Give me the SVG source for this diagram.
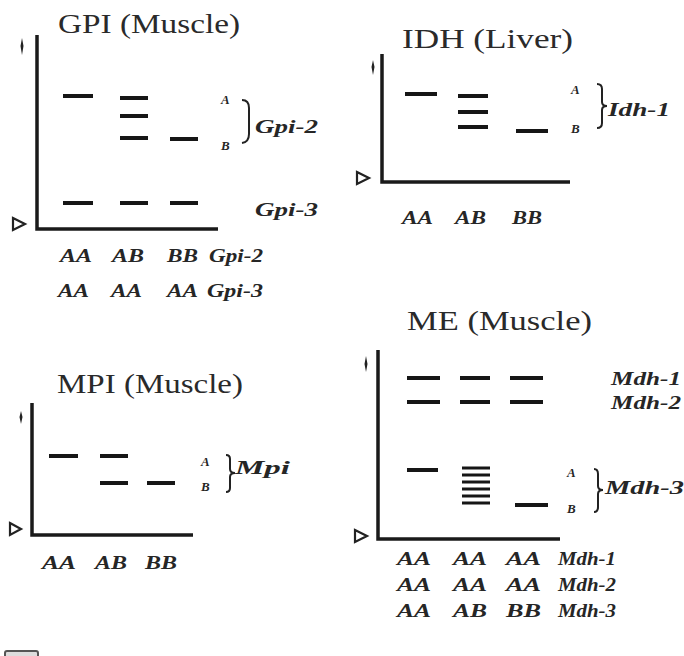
<svg xmlns="http://www.w3.org/2000/svg" width="684" height="656" viewBox="0 0 684 656">
<style>
.title{font-family:"Liberation Serif",serif;font-size:28px;fill:#2a2a2a}
.lane{font-family:"Liberation Serif",serif;font-style:italic;font-weight:bold;font-size:19px;fill:#262626}
.loc{font-family:"Liberation Serif",serif;font-style:italic;font-weight:bold;font-size:18px;fill:#262626}
.al{font-family:"Liberation Serif",serif;font-style:italic;font-weight:bold;font-size:13px;fill:#262626}
.band{stroke:#161616;stroke-width:4;fill:none}
.thin{stroke:#161616;stroke-width:3;fill:none}
.axis{stroke:#1a1a1a;stroke-width:3.5;fill:none}
.tri{fill:#fff;stroke:#222;stroke-width:2.2}
.tick{fill:#222}
.brace{fill:none;stroke:#222;stroke-width:2}
</style>
<rect width="684" height="656" fill="#fff"/>

<g id="gpi">
  <text class="title" x="58" y="33" textLength="182" lengthAdjust="spacingAndGlyphs">GPI (Muscle)</text>
  <path class="axis" d="M37,35 V229 H218"/>
  <polygon class="tick" points="22,38 23.5,46 22,55 20.5,46"/>
  <polygon class="tri" points="13,218 25,224 13,230"/>
  <path class="band" d="M63,96 H93 M120,98 H148 M120,116 H148 M120,138 H148 M170,139 H198 M63,203 H93 M120,203 H148 M170,203 H198"/>
  <text class="al" x="221" y="104">A</text>
  <text class="al" x="221" y="150">B</text>
  <path class="brace" d="M242,100 Q249,100 249,108 V134 Q249,142 242,143"/>
  <text class="loc" x="255" y="133" textLength="63" lengthAdjust="spacingAndGlyphs">Gpi-2</text>
  <text class="loc" x="255" y="216" textLength="63" lengthAdjust="spacingAndGlyphs">Gpi-3</text>
  <text class="lane" x="60" y="262" textLength="32" lengthAdjust="spacingAndGlyphs">AA</text>
  <text class="lane" x="112" y="262" textLength="32" lengthAdjust="spacingAndGlyphs">AB</text>
  <text class="lane" x="167" y="262" textLength="31" lengthAdjust="spacingAndGlyphs">BB</text>
  <text class="lane" x="209" y="262" textLength="54" lengthAdjust="spacingAndGlyphs">Gpi-2</text>
  <text class="lane" x="58" y="297" textLength="31" lengthAdjust="spacingAndGlyphs">AA</text>
  <text class="lane" x="111" y="297" textLength="31" lengthAdjust="spacingAndGlyphs">AA</text>
  <text class="lane" x="167" y="297" textLength="31" lengthAdjust="spacingAndGlyphs">AA</text>
  <text class="lane" x="207" y="297" textLength="56" lengthAdjust="spacingAndGlyphs">Gpi-3</text>
</g>

<g id="idh">
  <text class="title" x="402" y="48" textLength="171" lengthAdjust="spacingAndGlyphs">IDH (Liver)</text>
  <path class="axis" d="M382,54 V182 H570"/>
  <polygon class="tick" points="373,60 374.5,67 373,75 371.5,67"/>
  <polygon class="tri" points="357,172 369,178 357,184"/>
  <path class="band" d="M405,94 H437 M458,96 H488 M458,112 H488 M458,127 H488 M516,131 H548"/>
  <text class="al" x="571" y="94">A</text>
  <text class="al" x="571" y="133">B</text>
  <path class="brace" d="M597,84 Q602,84 602,89 V102 Q602,106 607,106 Q602,106 602,110 V123 Q602,128 597,128"/>
  <text class="loc" x="608" y="116" textLength="62" lengthAdjust="spacingAndGlyphs">Idh-1</text>
  <text class="lane" x="402" y="224" textLength="31" lengthAdjust="spacingAndGlyphs">AA</text>
  <text class="lane" x="455" y="224" textLength="31" lengthAdjust="spacingAndGlyphs">AB</text>
  <text class="lane" x="512" y="224" textLength="30" lengthAdjust="spacingAndGlyphs">BB</text>
</g>

<g id="mpi">
  <text class="title" x="57" y="393" textLength="186" lengthAdjust="spacingAndGlyphs">MPI (Muscle)</text>
  <path class="axis" d="M32,403 V535 H193"/>
  <polygon class="tick" points="21,411 22.5,417 21,424 19.5,417"/>
  <polygon class="tri" points="10,523 21,529 10,535"/>
  <path class="band" d="M49,456 H78 M100,456 H128 M100,483 H128 M147,483 H175"/>
  <text class="al" x="201" y="466">A</text>
  <text class="al" x="201" y="491">B</text>
  <path class="brace" d="M226,455 Q230,455 230,459 V469 Q230,473 235,473 Q230,473 230,477 V488 Q230,492 226,492"/>
  <text class="loc" x="235" y="474" textLength="55" lengthAdjust="spacingAndGlyphs">Mpi</text>
  <text class="lane" x="42" y="569" textLength="34" lengthAdjust="spacingAndGlyphs">AA</text>
  <text class="lane" x="95" y="569" textLength="32" lengthAdjust="spacingAndGlyphs">AB</text>
  <text class="lane" x="145" y="569" textLength="32" lengthAdjust="spacingAndGlyphs">BB</text>
</g>

<g id="me">
  <text class="title" x="407" y="330" textLength="185" lengthAdjust="spacingAndGlyphs">ME (Muscle)</text>
  <path class="axis" d="M378,350 V539 H560"/>
  <polygon class="tick" points="366,356 367.5,364 366,372 364.5,364"/>
  <polygon class="tri" points="355,530 367,536 355,542"/>
  <path class="band" d="M407,378 H440 M460,378 H490 M510,378 H543 M407,402 H440 M460,402 H490 M510,402 H543 M407,470 H438 M515,505 H548"/>
  <path class="thin" d="M462,468 H490 M462,475 H490 M462,482 H490 M462,489 H490 M462,496 H490 M462,503 H490"/>
  <text class="al" x="567" y="477">A</text>
  <text class="al" x="567" y="513">B</text>
  <path class="brace" d="M594,469 Q598,469 598,474 V486 Q598,490 603,490 Q598,490 598,494 V507 Q598,512 594,512"/>
  <text class="loc" x="605" y="494" textLength="79" lengthAdjust="spacingAndGlyphs">Mdh-3</text>
  <text class="loc" x="611" y="385" textLength="70" lengthAdjust="spacingAndGlyphs">Mdh-1</text>
  <text class="loc" x="611" y="409" textLength="70" lengthAdjust="spacingAndGlyphs">Mdh-2</text>
  <text class="lane" x="397" y="565" textLength="34" lengthAdjust="spacingAndGlyphs">AA</text>
  <text class="lane" x="453" y="565" textLength="34" lengthAdjust="spacingAndGlyphs">AA</text>
  <text class="lane" x="506" y="565" textLength="35" lengthAdjust="spacingAndGlyphs">AA</text>
  <text class="lane" x="558" y="565" textLength="58" lengthAdjust="spacingAndGlyphs">Mdh-1</text>
  <text class="lane" x="397" y="591" textLength="34" lengthAdjust="spacingAndGlyphs">AA</text>
  <text class="lane" x="453" y="591" textLength="34" lengthAdjust="spacingAndGlyphs">AA</text>
  <text class="lane" x="506" y="591" textLength="35" lengthAdjust="spacingAndGlyphs">AA</text>
  <text class="lane" x="558" y="591" textLength="58" lengthAdjust="spacingAndGlyphs">Mdh-2</text>
  <text class="lane" x="397" y="617" textLength="34" lengthAdjust="spacingAndGlyphs">AA</text>
  <text class="lane" x="453" y="617" textLength="34" lengthAdjust="spacingAndGlyphs">AB</text>
  <text class="lane" x="506" y="617" textLength="35" lengthAdjust="spacingAndGlyphs">BB</text>
  <text class="lane" x="558" y="617" textLength="58" lengthAdjust="spacingAndGlyphs">Mdh-3</text>
</g>

<g id="connectors"></g>

<rect x="5" y="651" width="33" height="12" rx="2" fill="#ddd" stroke="#555" stroke-width="2"/>
</svg>
